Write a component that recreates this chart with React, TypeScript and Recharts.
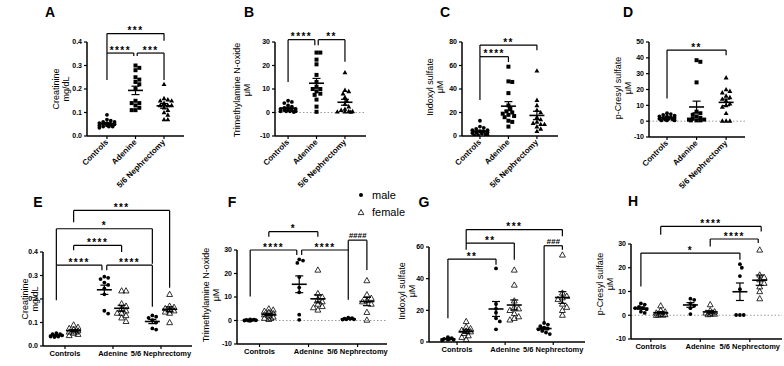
import React from 'react'
import { ScatterChart, Scatter, XAxis, YAxis, ReferenceLine, ErrorBar } from 'recharts'

const FONT = '"Liberation Sans", Arial, Helvetica, sans-serif'
const CATEGORIES = ['Controls', 'Adenine', '5/6 Nephrectomy']

// A-D: all animals, one array per group (Controls, Adenine, 5/6 Nephrectomy)
const creatinine = [
  [0.09, 0.07, 0.065, 0.06, 0.06, 0.055, 0.055, 0.05, 0.05, 0.05, 0.045, 0.045, 0.04, 0.04, 0.04, 0.035],
  [0.3, 0.29, 0.28, 0.25, 0.24, 0.23, 0.22, 0.2, 0.15, 0.14, 0.14, 0.13, 0.12, 0.11, 0.11],
  [0.22, 0.16, 0.155, 0.15, 0.15, 0.14, 0.13, 0.13, 0.13, 0.12, 0.11, 0.1, 0.09, 0.07, 0.07],
]
const tmao = [
  [5, 4.5, 4, 3, 2.5, 2, 1.5, 1.5, 1, 1, 1, 0.5, 0.5, 0.5, 0.5, 0.2],
  [25.5, 25.5, 22.5, 20.5, 16, 13, 11, 10, 10, 9, 8, 7.5, 5.5, 2.5, 0.3],
  [17, 9.5, 9, 8, 6.5, 5, 3.5, 2.5, 1.5, 1, 0.5, 0.5, 0.3, 0.3, 0.2],
]
const indoxyl = [
  [13, 8, 7, 6, 5, 5, 4, 4, 3, 3, 2.5, 2, 1.5, 1, 0.5, 0.5],
  [59, 46.5, 46, 36.5, 26, 23, 21, 20, 19, 18, 17, 16, 13, 12, 8],
  [55.5, 30.5, 26, 22, 20, 16, 14, 12, 11, 10, 10, 8, 6, 4],
]
const cresyl = [
  [5, 4.5, 4, 3.5, 3, 3, 2.5, 2, 2, 1.5, 1.5, 1, 1, 0.5, 0.5, 0.5],
  [38.5, 37.5, 24.5, 6, 5, 4, 3, 2, 1.5, 1, 1, 0.5, 0.5, 0.5],
  [27.5, 20, 19, 18, 16, 15, 14, 13, 11, 10, 9, 5, 0.2, 0.2, 0.2],
]

// E-H: split by sex -> controls m, controls f, adenine m, adenine f, 5/6 m, 5/6 f
const creatinineSex = [
  [0.055, 0.05, 0.05, 0.045, 0.045, 0.04, 0.04, 0.038],
  [0.09, 0.08, 0.075, 0.07, 0.065, 0.06, 0.06, 0.055, 0.05, 0.045],
  [0.295, 0.29, 0.285, 0.27, 0.26, 0.245, 0.22, 0.15, 0.138],
  [0.235, 0.235, 0.18, 0.17, 0.16, 0.15, 0.14, 0.14, 0.13, 0.12, 0.105],
  [0.13, 0.125, 0.12, 0.11, 0.1, 0.075, 0.07],
  [0.22, 0.17, 0.165, 0.16, 0.155, 0.15, 0.145, 0.14, 0.1],
]
const tmaoSex = [
  [0.5, 0.4, 0.3, 0.2, 0.1, 0, 0, -0.1],
  [5, 4.5, 4, 3.5, 3, 2.5, 2, 1.5, 1, 1, 0.5],
  [26, 25.5, 24.5, 18.5, 14, 12, 2.5, 0.3],
  [21.5, 11.5, 10, 9, 8, 7, 6, 5.5, 4.5],
  [1.2, 1, 0.8, 0.7, 0.5, 0.5, 0.4],
  [17, 11, 9.5, 8.5, 8, 7, 3.5, 0.2],
]
const indoxylSex = [
  [3, 2.5, 2, 2, 1.5, 1.5, 1],
  [13, 9.5, 8.5, 7.5, 7, 6.5, 5.5, 4, 3, 1.5],
  [46.5, 24, 21, 18.5, 15, 13, 8],
  [45.5, 36, 26, 22, 21, 20, 18, 16, 15, 14],
  [12, 11, 10, 9, 8.5, 8, 7, 6, 5],
  [55, 31, 29, 28, 27, 24, 22, 20, 17],
]
const cresylSex = [
  [5, 4.5, 3.5, 3, 3, 2.5, 1.5, 1],
  [4, 2, 1.5, 1, 0.5, 0.3, 0.2, 0.1, 0],
  [7, 6.5, 5, 4, 3, 0.5],
  [4.5, 2, 1.5, 1, 1, 0.5, 0.5, 0.3],
  [21.5, 20, 16.5, 11, 0.1, 0.1, 0.1],
  [27.5, 17, 16, 15, 13.5, 12, 10, 7],
]

const ticksCreat = [0, 0.1, 0.2, 0.3, 0.4]
const ticksTmao = [-10, 0, 10, 20, 30]
const ticksIndoxyl = [0, 20, 40, 60, 80]
const ticksCresyl = [-10, 0, 10, 20, 30, 40, 50]
const ticksIndoxylSex = [0, 20, 40, 60]

// significance brackets: a/b = group slot, y = bar height, ya/yb = leg ends
type Bracket = { a: number; b: number; y: number; ya: number; yb: number; text: string; na?: number; nb?: number }

const bracketsA: Bracket[] = [
  { a: 0, b: 1, nb: -0.06, y: 0.353, ya: 0.238, yb: 0.34, text: '****' },
  { a: 1, b: 2, na: 0.06, y: 0.353, ya: 0.34, yb: 0.238, text: '***' },
  { a: 0, b: 2, y: 0.436, ya: 0.353, yb: 0.405, text: '***' },
]
const bracketsB: Bracket[] = [
  { a: 0, b: 1, nb: -0.06, y: 31, ya: 13, yb: 28.6, text: '****' },
  { a: 1, b: 2, na: 0.06, y: 31, ya: 28.6, yb: 21.6, text: '**' },
]
const bracketsC: Bracket[] = [
  { a: 0, b: 1, y: 67.5, ya: 30.6, yb: 63, text: '****' },
  { a: 0, b: 2, y: 77.4, ya: 67.5, yb: 73, text: '**' },
]
const bracketsD: Bracket[] = [{ a: 0, b: 2, y: 44.9, ya: 14.3, yb: 41.6, text: '**' }]
const bracketsE: Bracket[] = [
  { a: 0, b: 2, nb: -0.05, y: 0.344, ya: 0.195, yb: 0.322, text: '****' },
  { a: 2, b: 4, na: 0.05, y: 0.344, ya: 0.322, yb: 0.167, text: '****' },
  { a: 1, b: 3, y: 0.428, ya: 0.407, yb: 0.4, text: '****' },
  { a: 0, b: 4, y: 0.499, ya: 0.344, yb: 0.35, text: '*' },
  { a: 1, b: 5, y: 0.577, ya: 0.527, yb: 0.248, text: '***' },
]
const bracketsF: Bracket[] = [
  { a: 0, b: 2, nb: -0.05, y: 30, ya: 10.2, yb: 27.9, text: '****' },
  { a: 2, b: 4, na: 0.05, y: 30, ya: 27.9, yb: 8.8, text: '****' },
  { a: 1, b: 3, y: 37.8, ya: 35.6, yb: 35.6, text: '*' },
  { a: 4, b: 5, y: 34.2, ya: 30, yb: 21.5, text: '####' },
]
const bracketsG: Bracket[] = [
  { a: 0, b: 2, y: 52.4, ya: 15, yb: 48.8, text: '**' },
  { a: 1, b: 3, y: 62.5, ya: 58.3, yb: 52, text: '**' },
  { a: 1, b: 5, y: 71, ya: 62.5, yb: 66.8, text: '***' },
  { a: 4, b: 5, y: 60.8, ya: 11.7, yb: 58.3, text: '###' },
]
const bracketsH: Bracket[] = [
  { a: 1, b: 5, nb: 0.03, y: 37.4, ya: 33.9, yb: 35.3, text: '****' },
  { a: 3, b: 5, nb: -0.03, y: 32.1, ya: 29, yb: 30.4, text: '****' },
  { a: 0, b: 4, y: 26.2, ya: 12.1, yb: 23.4, text: '*' },
]

type Mark = 'circle' | 'square' | 'tri' | 'open'

type PanelSpec = {
  left: number
  right: number
  top: number
  bottom: number
  mt: number
  mb: number
  spread: number
  xDomain: [number, number]
  yDomain: [number, number]
  yTicks: number[]
  decimals: number
  rotated: boolean
  groups: number[][]
  slotX: number[]
  marks: Mark[]
  brackets: Bracket[]
  zero: boolean
}

const triPts = (x: number, y: number, s: number) =>
  `${x},${y - s} ${x - s * 0.95},${y + s * 0.7} ${x + s * 0.95},${y + s * 0.7}`

const shapes: Record<Mark, (p: any) => React.ReactElement> = {
  circle: (p) => <circle cx={p.cx} cy={p.cy} r={1.9} fill="#000" />,
  square: (p) => <rect x={p.cx - 2} y={p.cy - 2} width={4} height={4} fill="#000" />,
  tri: (p) => <polygon points={triPts(p.cx, p.cy, 2.6)} fill="#000" />,
  open: (p) => <polygon points={triPts(p.cx, p.cy, 3.1)} fill="none" stroke="#000" strokeWidth={0.8} />,
}

const meanShape = (p: any) => (
  <line x1={p.cx - 7.5} x2={p.cx + 7.5} y1={p.cy} y2={p.cy} stroke="#000" strokeWidth={1.6} />
)

// beeswarm with a capped half-width: points may overlap when the column is full
function swarm(values: number[], pxY: number, pxX: number, d: number, maxHalf: number): number[] {
  const order = values.map((_, i) => i).sort((i, j) => values[j] - values[i])
  const placed: { x: number; y: number }[] = []
  const out = new Array(values.length).fill(0)
  const steps: number[] = [0]
  for (let j = 1; j * d * 0.5 <= maxHalf; j++) steps.push(j * d * 0.5, -j * d * 0.5)
  for (const i of order) {
    const y = values[i] * pxY
    let best = 0
    let bestGap = -1
    for (const s of steps) {
      const gap = placed.reduce((g, p) => Math.min(g, Math.hypot(p.x - s, p.y - y)), Infinity)
      if (gap >= d) {
        best = s
        bestGap = Infinity
        break
      }
      if (gap > bestGap) {
        bestGap = gap
        best = s
      }
    }
    placed.push({ x: best, y })
    out[i] = best / pxX
  }
  return out
}

const axisStyle = { stroke: '#000', strokeWidth: 1.5 }
const tickStyle = { stroke: '#000', strokeWidth: 1.2 }

const RotTick = (p: any) => (
  <text
    x={p.x}
    y={p.y}
    dy="0.3em"
    transform={`rotate(-45 ${p.x} ${p.y})`}
    textAnchor="end"
    fontSize={8}
    fontWeight={700}
    fill="#000"
  >
    {CATEGORIES[p.payload.value - 1]}
  </text>
)

const starLabel = (text: string) => (p: any) => {
  const vb = p.viewBox
  const hash = text.startsWith('#')
  return (
    <text
      x={vb.x + vb.width / 2}
      y={hash ? vb.y - 2 : vb.y + 0.5}
      textAnchor="middle"
      fontSize={hash ? 8 : 10}
      fontStyle={hash ? 'italic' : 'normal'}
      fontWeight={700}
      letterSpacing={hash ? 0 : 1.4}
      fill="#000"
    >
      {text}
    </text>
  )
}

function Panel({ spec }: { spec: PanelSpec }) {
  const ML = 40
  const MR = 1
  const { left, right, top, bottom, mt, mb } = spec
  const w = right - left + ML + MR
  const h = bottom - top + mt + mb
  const pxY = (bottom - top) / (spec.yDomain[1] - spec.yDomain[0])
  const pxX = (right - left) / (spec.xDomain[1] - spec.xDomain[0])

  const series = spec.groups.map((vals, gi) => {
    const offs = swarm(vals, pxY, pxX, spec.marks[gi] === 'open' ? 4.4 : 3.8, spec.spread)
    return vals.map((y, i) => ({ x: spec.slotX[gi] + offs[i], y }))
  })
  const means = spec.groups.map((vals, gi) => {
    const n = vals.length
    const m = vals.reduce((s, v) => s + v, 0) / n
    const sd = Math.sqrt(vals.reduce((s, v) => s + (v - m) ** 2, 0) / (n - 1))
    return { x: spec.slotX[gi], y: m, sem: sd / Math.sqrt(n) }
  })

  const line = { stroke: '#000', strokeWidth: 1.2, ifOverflow: 'visible' as const }

  return (
    <div style={{ position: 'absolute', left: left - ML, top: top - mt, width: w, height: h }}>
      <ScatterChart width={w} height={h} margin={{ top: mt, right: MR, bottom: 0, left: 0 }}>
        <XAxis
          type="number"
          dataKey="x"
          domain={spec.xDomain}
          allowDataOverflow
          ticks={[1, 2, 3]}
          interval={0}
          height={mb}
          tickSize={3}
          axisLine={axisStyle}
          tickLine={tickStyle}
          tick={spec.rotated ? (p: any) => <RotTick {...p} /> : { fontSize: 7.5, fontWeight: 700, fill: '#000' }}
          tickFormatter={(v: number) => CATEGORIES[v - 1]}
        />
        <YAxis
          type="number"
          dataKey="y"
          domain={spec.yDomain}
          allowDataOverflow
          ticks={spec.yTicks}
          interval={0}
          width={ML}
          tickSize={3}
          tickMargin={2}
          axisLine={axisStyle}
          tickLine={tickStyle}
          tick={{ fontSize: 7, fontWeight: 700, fill: '#000' }}
          tickFormatter={(v: number) => v.toFixed(spec.decimals)}
        />
        {spec.zero && <ReferenceLine y={0} stroke="#9a9a9a" strokeWidth={1} strokeDasharray="1.5 2" />}
        {series.map((d, gi) => (
          <Scatter key={gi} data={d} shape={shapes[spec.marks[gi]]} isAnimationActive={false} />
        ))}
        <Scatter data={means} shape={meanShape} isAnimationActive={false}>
          <ErrorBar dataKey="sem" direction="y" width={4} stroke="#000" strokeWidth={1.2} isAnimationActive={false} />
        </Scatter>
        {spec.brackets.flatMap((b, i) => {
          const xa = spec.slotX[b.a] + (b.na ?? 0)
          const xb = spec.slotX[b.b] + (b.nb ?? 0)
          return [
            <ReferenceLine key={`l${i}`} {...line} segment={[{ x: xa, y: b.ya }, { x: xa, y: b.y }]} />,
            <ReferenceLine
              key={`t${i}`}
              {...line}
              segment={[{ x: xa, y: b.y }, { x: xb, y: b.y }]}
              label={starLabel(b.text)}
            />,
            <ReferenceLine key={`r${i}`} {...line} segment={[{ x: xb, y: b.y }, { x: xb, y: b.yb }]} />,
          ]
        })}
      </ScatterChart>
    </div>
  )
}

const pooledMarks: Mark[] = ['circle', 'square', 'tri']
const sexMarks: Mark[] = ['circle', 'open', 'circle', 'open', 'circle', 'open']
const sexSlots = (o: number) => [1 - o, 1 + o, 2 - o, 2 + o, 3 - o, 3 + o]

const top = { mt: 40, mb: 66, spread: 9, rotated: true, slotX: [1, 2, 3], marks: pooledMarks }
const bot = { mt: 55, mb: 20, spread: 6, rotated: false, marks: sexMarks }

const panels: PanelSpec[] = [
  { ...top, left: 87, right: 184, top: 42, bottom: 136, xDomain: [0.3, 3.7], yDomain: [0, 0.4], yTicks: ticksCreat, decimals: 1, groups: creatinine, brackets: bracketsA, zero: false },
  { ...top, left: 275, right: 366, top: 42, bottom: 136, xDomain: [0.54, 3.74], yDomain: [-10, 30], yTicks: ticksTmao, decimals: 0, groups: tmao, brackets: bracketsB, zero: true },
  { ...top, left: 462, right: 558, top: 42, bottom: 136, xDomain: [0.37, 3.74], yDomain: [0, 80], yTicks: ticksIndoxyl, decimals: 0, groups: indoxyl, brackets: bracketsC, zero: false },
  { ...top, left: 649, right: 745, top: 42, bottom: 137, xDomain: [0.39, 3.64], yDomain: [-10, 50], yTicks: ticksCresyl, decimals: 0, groups: cresyl, brackets: bracketsD, zero: true },
  { ...bot, left: 43, right: 192, top: 252, bottom: 346, xDomain: [0.542, 3.646], yDomain: [0, 0.4], yTicks: ticksCreat, decimals: 1, groups: creatinineSex, slotX: sexSlots(0.18), brackets: bracketsE, zero: false },
  { ...bot, left: 237, right: 387, top: 250, bottom: 344, xDomain: [0.541, 3.6], yDomain: [-10, 30], yTicks: ticksTmao, decimals: 0, groups: tmaoSex, slotX: sexSlots(0.19), brackets: bracketsF, zero: true },
  { ...bot, left: 429, right: 585, top: 247, bottom: 342, xDomain: [0.417, 3.66], yDomain: [0, 60], yTicks: ticksIndoxylSex, decimals: 0, groups: indoxylSex, slotX: sexSlots(0.19), brackets: bracketsG, zero: false },
  { ...bot, left: 631, right: 782, top: 244, bottom: 339, xDomain: [0.6, 3.65], yDomain: [-10, 30], yTicks: ticksTmao, decimals: 0, groups: cresylSex, slotX: sexSlots(0.2), brackets: bracketsH, zero: true },
]

const letters = [
  { t: 'A', x: 50, y: 12 },
  { t: 'B', x: 249, y: 12 },
  { t: 'C', x: 445, y: 12 },
  { t: 'D', x: 628, y: 12 },
  { t: 'E', x: 38, y: 202 },
  { t: 'F', x: 232, y: 202 },
  { t: 'G', x: 424, y: 202 },
  { t: 'H', x: 633, y: 201 },
]

const yTitles = [
  { l: ['Creatinine', 'mg/dL'], x: 61, y: 89 },
  { l: ['Trimethylamine N-oxide', 'μM'], x: 242, y: 90 },
  { l: ['Indoxyl sulfate', 'μM'], x: 435, y: 87 },
  { l: ['p-Cresyl sulfate', 'μM'], x: 623, y: 88 },
  { l: ['Creatinine', 'mg/dL'], x: 30, y: 299 },
  { l: ['Trimethylamine N-oxide', 'μM'], x: 211, y: 295 },
  { l: ['Indoxyl sulfate', 'μM'], x: 407, y: 291 },
  { l: ['p-Cresyl sulfate', 'μM'], x: 605, y: 284 },
]

export default function App() {
  return (
    <div
      style={{
        position: 'absolute',
        left: 0,
        top: 0,
        width: 784,
        height: 366,
        overflow: 'hidden',
        background: '#fff',
        fontFamily: FONT,
      }}
    >
      {panels.map((p, i) => (
        <Panel key={i} spec={p} />
      ))}
      <svg width={784} height={366} style={{ position: 'absolute', left: 0, top: 0, pointerEvents: 'none' }}>
        {letters.map((l) => (
          <text key={l.t} x={l.x} y={l.y + 5} textAnchor="middle" fontSize={14} fontWeight={700} fill="#000">
            {l.t}
          </text>
        ))}
        {yTitles.map((t, i) => (
          <text key={i} transform={`translate(${t.x},${t.y}) rotate(-90)`} textAnchor="middle" fontSize={9} fill="#000">
            <tspan x={0} y={-1.8}>
              {t.l[0]}
            </tspan>
            <tspan x={0} y={8.2}>
              {t.l[1]}
            </tspan>
          </text>
        ))}
        {/* legend for E-H */}
        <circle cx={361} cy={195} r={2} fill="#000" />
        <text x={372} y={199} fontSize={11} fill="#000">
          male
        </text>
        <polygon points={triPts(361, 212.5, 3)} fill="none" stroke="#000" strokeWidth={0.8} />
        <text x={372} y={216} fontSize={11} fill="#000">
          female
        </text>
      </svg>
    </div>
  )
}
